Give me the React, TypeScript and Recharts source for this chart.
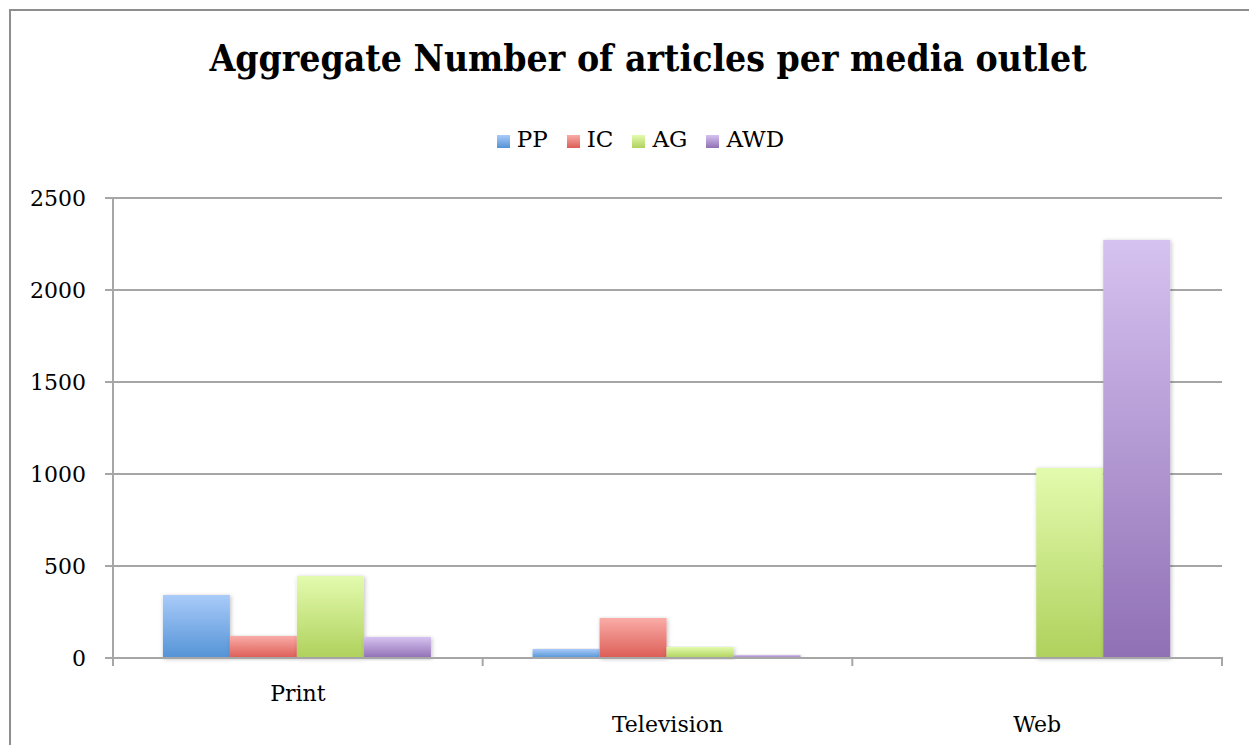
import React from 'react'
import { BarChart, Bar, XAxis, YAxis, CartesianGrid, Legend } from 'recharts'

const categories = ['Print', 'Television', 'Web']
const ppValues = [342, 49, 0]
const icValues = [120, 217, 0]
const agValues = [446, 60, 1033]
const awdValues = [114, 16, 2272]
const yTicks = [0, 500, 1000, 1500, 2000, 2500]

const data = categories.map((name, i) => ({
    name,
    PP: ppValues[i],
    IC: icValues[i],
    AG: agValues[i],
    AWD: awdValues[i],
}))

const FONT = '"DejaVu Serif", serif'
const TITLE_FONT = '"DejaVu Serif Condensed", "DejaVu Serif", serif'
const AXIS = '#a6a6a6'

const SERIES = [
    { key: 'PP', id: 'gPP', top: '#a9cbf9', bottom: '#5493d6' },
    { key: 'IC', id: 'gIC', top: '#faaca7', bottom: '#dc5d56' },
    { key: 'AG', id: 'gAG', top: '#e3fbae', bottom: '#afd15c' },
    { key: 'AWD', id: 'gAWD', top: '#d6c2f0', bottom: '#9070b5' },
]

function CategoryTick(props: any) {
    const { x, y, payload, index } = props
    const half = payload.offset ?? 0
    const isLast = index === categories.length - 1
    // Excel staggers the labels: first one sits higher
    const dy = index === 0 ? 35 : 66
    return (
        <g>
            <line x1={x - half} x2={x - half} y1={y - 9} y2={y} stroke={AXIS} strokeWidth={2} />
            {isLast && <line x1={x + half} x2={x + half} y1={y - 9} y2={y} stroke={AXIS} strokeWidth={2} />}
            <text x={x} y={y + dy} textAnchor="middle" fontFamily={FONT} fontSize={22} fill="#000">
                {payload.value}
            </text>
        </g>
    )
}

export default function App() {
    return (
        <div style={{ position: 'relative', width: 1257, height: 753, margin: -8, overflow: 'hidden', background: '#fff' }}>
            <div
                style={{
                    position: 'absolute', left: 2, top: -18, fontFamily: '"Liberation Serif", serif',
                    fontWeight: 'bold', fontSize: 26, lineHeight: 1, whiteSpace: 'nowrap',
                }}
            >
                Figure 4: Volume of Coverage for Teams
            </div>
            <div
                style={{
                    position: 'absolute', left: 9, top: 9, width: 1270, height: 770,
                    border: '2px solid #8e8e8e', boxSizing: 'border-box',
                }}
            />
            <div
                style={{
                    position: 'absolute', left: 0, width: 1296, top: 40, textAlign: 'center',
                    fontFamily: TITLE_FONT, fontWeight: 'bold', fontSize: 37, lineHeight: 1, whiteSpace: 'nowrap',
                }}
            >
                Aggregate Number of articles per media outlet
            </div>
            <div style={{ position: 'absolute', left: 0, top: 0 }}>
                <BarChart
                    width={1257}
                    height={753}
                    data={data}
                    margin={{ top: 198, right: 35, bottom: 94, left: 13 }}
                    barCategoryGap="13.5%"
                    barGap={0}
                >
                    <defs>
                        {SERIES.map((s) => (
                            <linearGradient key={s.id} id={s.id} x1="0" y1="0" x2="0" y2="1">
                                <stop offset="0%" stopColor={s.top} />
                                <stop offset="100%" stopColor={s.bottom} />
                            </linearGradient>
                        ))}
                        <filter id="barShadow" x="-20%" y="-5%" width="140%" height="115%">
                            <feDropShadow dx="1" dy="1" stdDeviation="2" floodColor="#000" floodOpacity="0.25" />
                        </filter>
                    </defs>
                    <CartesianGrid horizontal vertical={false} stroke={AXIS} strokeWidth={2} />
                    <XAxis
                        dataKey="name"
                        height={1}
                        axisLine={{ stroke: AXIS, strokeWidth: 2 }}
                        tickLine={false}
                        tick={<CategoryTick />}
                        interval={0}
                    />
                    <YAxis
                        width={100}
                        domain={[0, 2500]}
                        ticks={yTicks}
                        tickSize={8}
                        axisLine={{ stroke: AXIS, strokeWidth: 2 }}
                        tickLine={{ stroke: AXIS, strokeWidth: 2 }}
                        tick={{ fill: '#000', fontSize: 22, fontFamily: FONT }}
                        tickMargin={19}
                    />
                    <Legend
                        layout="horizontal"
                        verticalAlign="middle"
                        align="center"
                        iconType="square"
                        iconSize={13}
                        itemSorter={(item: any) => SERIES.findIndex((s) => s.key === item.dataKey)}
                        wrapperStyle={{ top: 126, left: 0, width: 1300, fontFamily: FONT, fontSize: 23 }}
                        formatter={(v) => <span style={{ color: '#000', marginLeft: 3, marginRight: 9 }}>{v}</span>}
                    />
                    {SERIES.map((s) => (
                        <Bar
                            key={s.key}
                            dataKey={s.key}
                            fill={`url(#${s.id})`}
                            filter="url(#barShadow)"
                            isAnimationActive={false}
                        />
                    ))}
                </BarChart>
            </div>
        </div>
    )
}
